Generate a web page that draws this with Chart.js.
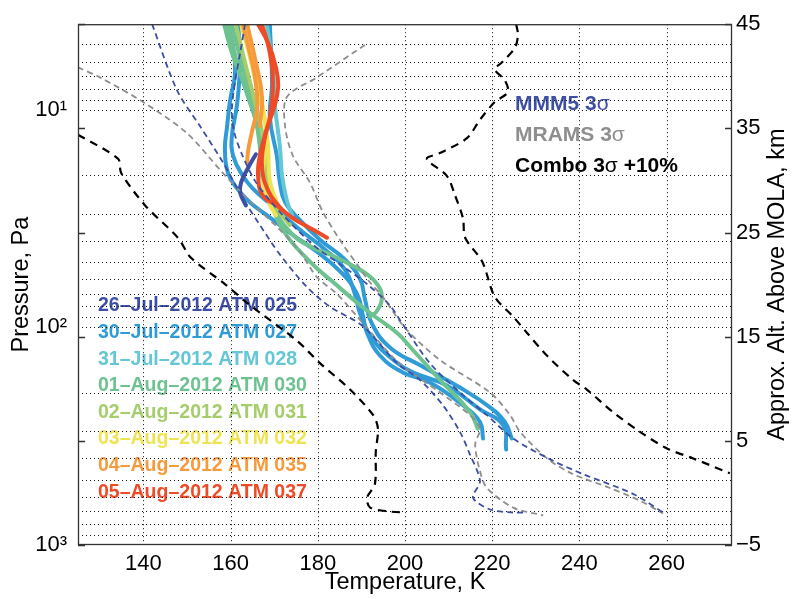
<!DOCTYPE html>
<html>
<head>
<meta charset="utf-8">
<script src="https://cdn.jsdelivr.net/npm/chart.js@4.4.0/dist/chart.umd.min.js"></script>
<style>
  html, body { margin: 0; padding: 0; background: #fff; }
  #wrap { width: 792px; height: 599px; position: relative; }
</style>
</head>
<body>
<div id="wrap"><canvas id="profiles"></canvas></div>
<script>
// axis ticks
const tempTicks = [140, 160, 180, 200, 220, 240, 260];
const pressureTicks = [5, 6, 7, 8, 9, 10, 20, 30, 40, 50, 60, 70, 80, 90, 100, 200, 300, 400, 500, 600, 700, 800, 900, 1000];
const altTicks = [-5, 5, 15, 25, 35, 45];

// model envelopes (temperature K, pressure Pa)
const mmm5ColdT = [142.0, 147.7, 153.0, 158.3, 162.8, 166.7, 171.3, 177.5, 182.8, 190.4, 198.2, 203.4, 208.7, 212.6, 214.9, 217.2, 215.6, 219.5, 224.8, 227.1];
const mmm5ColdP = [4.04, 8.12, 11.9, 17.5, 25.5, 33.8, 46.2, 65.2, 80.3, 98.9, 146, 174, 228, 302, 384, 508, 606, 687, 709, 709];
const mmm5WarmT = [163.3, 162.2, 161.0, 160.3, 160.8, 162.6, 165.6, 169.0, 172.0, 178.9, 185.1, 191.3, 196.6, 198.9, 205.7, 213.3, 218.8, 224.8, 233.3, 240.8, 252.3, 259.2];
const mmm5WarmP = [4.04, 5.47, 7.47, 10.0, 12.6, 16.0, 21.2, 26.1, 30.5, 41.7, 51.3, 63.2, 79.5, 92.9, 146, 205, 253, 324, 404, 472, 582, 709];

const mramsColdT = [125.0, 130.0, 139.9, 150.0, 157.8, 164.7, 170.9, 175.9, 179.8, 184.4, 190.4, 198.2, 208.0, 214.9, 217.2, 216.1, 217.2, 218.8, 224.8, 231.7];
const mramsColdP = [6.38, 7.09, 9.2, 12.8, 19.1, 26.6, 34.9, 44.9, 58.8, 70.2, 95.9, 143, 199, 253, 292, 345, 458, 547, 673, 731];
const mramsWarmT = [190.8, 179.8, 172.9, 172.5, 174.3, 178.2, 181.2, 185.8, 189.0, 191.7, 194.9, 200.1, 208.0, 219.5, 224.1, 226.4, 232.6, 238.5, 247.0, 253.9, 259.2];
const mramsWarmP = [5.03, 7.09, 8.73, 11.9, 16.3, 21.6, 29.6, 41.7, 51.3, 61.2, 72.4, 101, 141, 199, 253, 302, 400, 472, 547, 626, 716];

const comboColdT = [125.0, 134.2, 134.9, 140.4, 147.9, 150.9, 158.7, 164.0, 175.2, 180.5, 187.4, 192.7, 193.8, 193.3, 193.1, 191.3, 192.0, 196.6, 200.0];
const comboColdP = [13.0, 16.8, 19.5, 27.5, 38.7, 47.8, 63.2, 77.8, 115, 146, 193, 253, 292, 372, 524, 606, 673, 702, 709];
const comboWarmT = [225.5, 225.9, 225.2, 222.2, 220.6, 222.9, 223.6, 220.6, 217.2, 214.2, 208.0, 205.0, 209.6, 211.5, 213.3, 213.8, 217.7, 220.6, 224.8, 228.0, 232.6, 238.5, 241.7, 247.7, 253.9, 260.1, 266.1, 274.5];
const comboWarmP = [4.04, 4.53, 5.19, 6.06, 6.52, 7.31, 8.29, 9.2, 11.1, 13.5, 15.8, 16.8, 20.1, 24.8, 31.5, 38.7, 49.8, 72.4, 89.2, 106, 135, 174, 193, 245, 302, 360, 400, 468];

// measured profiles
const atm025T = [165.8, 164.0, 162.4, 162.2, 163.5];
const atm025P = [16.0, 18.5, 21.6, 24.0, 27.5];

const atm027aT = [159.4, 160.6, 161.0, 159.9, 159.2, 158.7, 159.4, 161.5, 164.4, 168.3, 174.3, 179.8, 185.1, 189.0, 190.4, 191.3, 194.3, 199.5, 205.7, 213.3, 217.2, 217.9];
const atm027aP = [4.04, 5.19, 6.87, 9.01, 11.9, 15.2, 19.5, 23.0, 26.6, 30.5, 37.6, 44.9, 55.2, 70.2, 89.2, 106, 135, 161, 179, 228, 272, 324];
const atm027bT = [161.7, 162.2, 161.5, 160.3, 160.6, 162.8, 165.1, 169.5, 175.9, 181.7, 186.2, 188.5, 189.7, 192.4, 197.7, 201.8, 209.6, 217.2, 222.5, 223.2];
const atm027bP = [4.04, 5.76, 9.39, 13.2, 16.3, 20.1, 23.0, 27.5, 35.6, 43.9, 54.1, 70.2, 86.4, 112, 143, 161, 185, 238, 281, 364];
const atm027cT = [169.0, 169.5, 169.0, 170.6, 171.3, 172.5, 175.9, 180.5, 186.2, 189.7, 190.8, 192.4, 196.6, 203.4, 212.6, 219.5, 222.9, 224.5];
const atm027cP = [4.04, 7.62, 10.8, 16.3, 21.6, 26.6, 32.1, 39.5, 48.7, 60.0, 74.0, 95.9, 124, 149, 189, 233, 272, 324];

const atm028T = [168.3, 169.7, 170.2, 171.3, 171.8, 172.9, 174.1];
const atm028P = [4.04, 6.38, 9.69, 14.7, 20.1, 26.1, 30.5];

const atm030aT = [159.4, 161.2, 164.0, 165.8, 166.7, 167.2, 169.5, 174.3, 178.9, 182.8, 187.4, 191.3, 193.6, 194.7, 193.6, 192.0];
const atm030aP = [4.04, 5.76, 8.73, 11.3, 14.7, 20.1, 27.5, 37.6, 43.0, 46.2, 51.3, 57.0, 63.2, 72.4, 83.8, 89.2];
const atm030bT = [160.3, 162.2, 164.4, 165.8, 167.2, 167.9, 169.0, 172.0, 178.2, 183.5, 191.3, 198.2, 201.8, 208.0, 214.9, 216.7];
const atm030bP = [4.04, 5.76, 8.29, 10.8, 13.96, 19.1, 24.8, 35.6, 49.8, 61.9, 83.8, 106, 127, 174, 245, 292];
const atm030cT = [158.5, 160.3, 163.3, 165.6];
const atm030cP = [4.04, 5.47, 7.87, 10.8];

const atm031T = [161.2, 163.3, 165.6, 167.2, 168.1, 168.6, 170.9, 173.6];
const atm031P = [4.04, 6.06, 9.20, 12.6, 17.2, 23.5, 28.9, 33.8];

const atm032aT = [162.4, 164.2, 166.3, 167.9, 168.1, 167.4, 168.6, 170.4];
const atm032aP = [4.04, 5.47, 8.29, 11.3, 14.7, 20.1, 26.1, 30.5];
const atm032bT = [163.5, 165.6, 167.4, 168.6, 169.0, 170.9];
const atm032bP = [4.04, 6.38, 9.69, 14.7, 21.2, 27.5];

const atm035aT = [162.8, 164.4, 165.6, 166.1, 164.9, 164.0, 163.8];
const atm035aP = [4.04, 5.47, 7.09, 9.69, 12.6, 15.5, 17.5];
const atm035bT = [163.8, 165.8, 167.2, 166.7];
const atm035bP = [4.04, 6.06, 8.73, 11.9];

const atm037aT = [166.3, 168.6, 170.4, 170.9, 170.0, 168.1, 166.7, 166.3, 167.4, 170.6, 174.3, 178.2, 182.1];
const atm037aP = [4.04, 4.92, 6.38, 7.87, 9.69, 12.6, 16.3, 20.1, 24.8, 27.5, 31.5, 34.9, 38.7];
const atm037bT = [167.2, 169.0, 169.7, 169.0, 167.7, 167.2, 168.6, 171.8];
const atm037bP = [4.04, 5.47, 7.87, 10.8, 13.96, 18.1, 23.5, 28.9];

const profileLabels = ['26\u2013Jul\u20132012 ATM 025', '30\u2013Jul\u20132012 ATM 027', '31\u2013Jul\u20132012 ATM 028', '01\u2013Aug\u20132012 ATM 030',
  '02\u2013Aug\u20132012 ATM 031', '03\u2013Aug\u20132012 ATM 032', '04\u2013Aug\u20132012 ATM 035', '05\u2013Aug\u20132012 ATM 037'];
const profileColors = ['#3d4fa4', '#2f9bd7', '#63c7d6', '#6ec290', '#a5cd6b', '#eee453', '#f59b3d', '#ee4b26'];
const envelopeLabels = ['MMM5 3\u03c3', 'MRAMS 3\u03c3', 'Combo 3\u03c3 +10%'];
const envelopeColors = ['#3d4fa4', '#8e8e8e', '#000000'];

const FONT = "'Liberation Sans', Arial, Helvetica, sans-serif";

function pts(T, P) {
  return T.map((t, i) => ({ x: t, y: P[i] }));
}

function dashed(T, P, color, width, dash) {
  return { data: pts(T, P), borderColor: color, borderWidth: width, borderDash: dash, showLine: true,
    pointRadius: 0, fill: false, tension: 0.3 };
}

function solid(T, P, color) {
  return { data: pts(T, P), borderColor: color, borderWidth: 4, showLine: true,
    pointRadius: 0, fill: false, tension: 0.45, borderCapStyle: 'round', borderJoinStyle: 'round' };
}

const datasets = [
  dashed(mmm5ColdT, mmm5ColdP, envelopeColors[0], 1.8, [6, 4]),
  dashed(mmm5WarmT, mmm5WarmP, envelopeColors[0], 1.8, [6, 4]),
  dashed(mramsColdT, mramsColdP, envelopeColors[1], 1.8, [6, 4]),
  dashed(mramsWarmT, mramsWarmP, envelopeColors[1], 1.8, [6, 4]),
  dashed(comboColdT, comboColdP, envelopeColors[2], 2.2, [8, 6]),
  dashed(comboWarmT, comboWarmP, envelopeColors[2], 2.2, [8, 6]),
  solid(atm025T, atm025P, profileColors[0]),
  solid(atm037aT, atm037aP, profileColors[7]),
  solid(atm037bT, atm037bP, profileColors[7]),
  solid(atm035aT, atm035aP, profileColors[6]),
  solid(atm035bT, atm035bP, profileColors[6]),
  solid(atm032aT, atm032aP, profileColors[5]),
  solid(atm032bT, atm032bP, profileColors[5]),
  solid(atm031T, atm031P, profileColors[4]),
  solid(atm030aT, atm030aP, profileColors[3]),
  solid(atm030bT, atm030bP, profileColors[3]),
  solid(atm030cT, atm030cP, profileColors[3]),
  solid(atm028T, atm028P, profileColors[2]),
  solid(atm027aT, atm027aP, profileColors[1]),
  solid(atm027bT, atm027bP, profileColors[1]),
  solid(atm027cT, atm027cP, profileColors[1])
];

// draws text with the sigma in regular weight, the rest bold
function mixedText(ctx, str, x, y, size, color) {
  ctx.fillStyle = color;
  ctx.textBaseline = 'middle';
  ctx.textAlign = 'left';
  const parts = str.split('\u03c3');
  parts.forEach((p, i) => {
    ctx.font = 'bold ' + size + 'px ' + FONT;
    ctx.fillText(p, x, y);
    x += ctx.measureText(p).width;
    if (i < parts.length - 1) {
      ctx.font = size + 'px ' + FONT;
      ctx.fillText('\u03c3', x, y);
      x += ctx.measureText('\u03c3').width;
    }
  });
}

const framePlugin = {
  id: 'frame',
  beforeDatasetsDraw(chart) {
    const { ctx, chartArea: a, scales } = chart;
    ctx.save();
    // labels
    profileLabels.forEach((s, i) => mixedText(ctx, s, a.left + 20, 306 + i * 26.6, 19.5, profileColors[i]));
    envelopeLabels.forEach((s, i) => mixedText(ctx, s, 515, 104 + i * 31, 21, envelopeColors[i]));
    // dotted grid
    ctx.strokeStyle = '#111';
    ctx.lineWidth = 1;
    ctx.setLineDash([1, 3]);
    tempTicks.forEach(v => {
      const x = Math.round(scales.x.getPixelForValue(v)) + 0.5;
      ctx.beginPath(); ctx.moveTo(x, a.top); ctx.lineTo(x, a.bottom); ctx.stroke();
    });
    pressureTicks.forEach(v => {
      const y = Math.round(scales.y.getPixelForValue(v)) + 0.5;
      if (y > a.bottom - 1) return;
      ctx.beginPath(); ctx.moveTo(a.left, y); ctx.lineTo(a.right, y); ctx.stroke();
    });
    ctx.restore();
  },
  afterDatasetsDraw(chart) {
    const { ctx, chartArea: a, scales } = chart;
    ctx.save();
    ctx.strokeStyle = '#333';
    ctx.lineWidth = 1.3;
    ctx.strokeRect(a.left + 0.5, a.top + 0.5, a.right - a.left - 1, a.bottom - a.top - 1);
    altTicks.forEach(v => {
      const y = Math.round(scales.alt.getPixelForValue(v)) + 0.5;
      ctx.beginPath();
      ctx.moveTo(a.left, y); ctx.lineTo(a.left + 7, y);
      ctx.moveTo(a.right, y); ctx.lineTo(a.right - 7, y);
      ctx.stroke();
    });
    // axis titles
    ctx.fillStyle = '#000';
    ctx.font = '23.5px ' + FONT;
    ctx.textAlign = 'center';
    ctx.textBaseline = 'middle';
    ctx.fillText('Temperature, K', (a.left + a.right) / 2, 583);
    ctx.translate(22, (a.top + a.bottom) / 2);
    ctx.rotate(-Math.PI / 2);
    ctx.fillText('Pressure, Pa', 0, 0);
    ctx.restore();
    ctx.save();
    ctx.fillStyle = '#000';
    ctx.font = '23.5px ' + FONT;
    ctx.textAlign = 'center';
    ctx.textBaseline = 'middle';
    ctx.translate(778, (a.top + a.bottom) / 2);
    ctx.rotate(-Math.PI / 2);
    ctx.fillText('Approx. Alt. Above MOLA, km', 0, 0);
    ctx.restore();
  }
};

const tickFont = { family: FONT, size: 22 };
const supers = { 10: '10\u00b9', 100: '10\u00b2', 1000: '10\u00b3' };

new Chart(document.getElementById('profiles'), {
  type: 'scatter',
  data: { datasets },
  options: {
    responsive: true,
    maintainAspectRatio: false,
    animation: false,
    devicePixelRatio: 1,
    layout: { padding: { top: 16, left: 0, right: 0, bottom: 0 } },
    plugins: { legend: { display: false }, tooltip: { enabled: false } },
    scales: {
      x: {
        type: 'linear', min: 125, max: 275,
        afterBuildTicks: s => { s.ticks = tempTicks.map(v => ({ value: v })); },
        afterFit: s => { s.height = 54; },
        grid: { display: false, drawTicks: false },
        border: { display: false },
        ticks: { font: tickFont, color: '#000', padding: 6, maxRotation: 0, autoSkip: false }
      },
      y: {
        type: 'logarithmic', reverse: true, min: 4.04, max: 1000, position: 'left',
        afterBuildTicks: s => { s.ticks = pressureTicks.map(v => ({ value: v })); },
        afterFit: s => { s.width = 78; },
        grid: { display: false, drawTicks: false },
        border: { display: false },
        ticks: { font: tickFont, color: '#000', padding: 11, autoSkip: false,
          callback: v => supers[v] || '' }
      },
      alt: {
        type: 'linear', position: 'right', min: -5, max: 45,
        afterBuildTicks: s => { s.ticks = altTicks.map(v => ({ value: v })); },
        afterFit: s => { s.width = 60; },
        grid: { display: false, drawTicks: false },
        border: { display: false },
        ticks: { font: tickFont, color: '#000', padding: 4, autoSkip: false,
          callback: v => (v < 0 ? '\u2212' + Math.abs(v) : String(v)) }
      }
    }
  },
  plugins: [framePlugin]
});
</script>
</body>
</html>
